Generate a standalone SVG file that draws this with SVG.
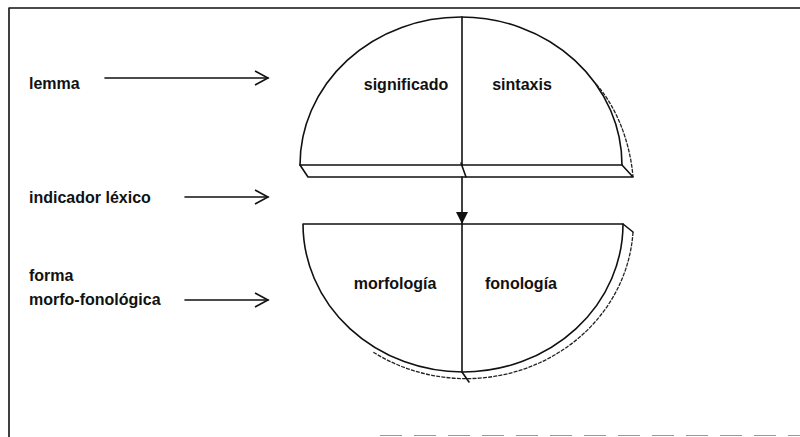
<svg xmlns="http://www.w3.org/2000/svg" width="800" height="437" viewBox="0 0 800 437">
<style>
.t{font-family:"Liberation Sans",Arial,sans-serif;font-size:16px;font-weight:bold;fill:#111}
.ln{fill:none;stroke:#111;stroke-width:1.6;stroke-linecap:round;stroke-linejoin:round}
.sh{fill:none;stroke:#222;stroke-width:1.3;stroke-dasharray:4 1.2}
</style>
<defs>
<marker id="open" markerWidth="16" markerHeight="16" refX="14" refY="8" orient="auto" markerUnits="userSpaceOnUse">
<path d="M1,1 L14,8 L1,15" fill="none" stroke="#111" stroke-width="1.6"/>
</marker>
<marker id="solid" markerWidth="14" markerHeight="14" refX="12" refY="7" orient="auto" markerUnits="userSpaceOnUse">
<path d="M0,1 L12,7 L0,13 Z" fill="#111"/>
</marker>
</defs>
<rect width="800" height="437" fill="#fff"/>
<g id="frame">
<path class="ln" d="M9,8 H800 M9,8 V437"/>
<path d="M380,435.5 H800" stroke="#999" stroke-width="1" stroke-dasharray="22 12" fill="none"/>
</g>
<g id="lemma">
<text class="t" x="29" y="89">lemma</text>
</g>
<g id="indicador">
<text class="t" x="29" y="203">indicador léxico</text>
</g>
<g id="forma">
<text class="t" x="29" y="281">forma</text>
<text class="t" x="29" y="305">morfo-fonológica</text>
</g>
<g id="upper">
<path class="ln" d="M300,165 A161,148 0 0 1 622,165"/>
<path class="sh" d="M596,84 C615,105 630,140 633,177"/>
<path class="ln" d="M300,165 H622 L633,177 H308 Z"/>
<path class="ln" d="M461,163 L466,177"/>
<path class="ln" stroke-width="2" d="M462,17 V165"/>
<text class="t" x="406" y="90" text-anchor="middle">significado</text>
<text class="t" x="522" y="90" text-anchor="middle">sintaxis</text>
</g>
<g id="lower">
<path class="ln" d="M303,224 A160,148 0 0 0 623,224 Z"/>
<path class="ln" d="M623,224 L633,232"/>
<path class="sh" d="M633,232 A167,156 0 0 1 373,352"/>
<path class="ln" d="M462,372 L469,382"/>
<text class="t" x="395" y="289" text-anchor="middle">morfología</text>
<text class="t" x="521" y="289" text-anchor="middle">fonología</text>
</g>
<g id="connectors">
<path class="ln" d="M105,78 H268" marker-end="url(#open)"/>
<path class="ln" d="M185,197 H268" marker-end="url(#open)"/>
<path class="ln" d="M185,300 H268" marker-end="url(#open)"/>
<path class="ln" stroke-width="2" d="M462,177 V224" marker-end="url(#solid)"/>
<path class="ln" stroke-width="2" d="M462,224 V372"/>
</g>
</svg>
